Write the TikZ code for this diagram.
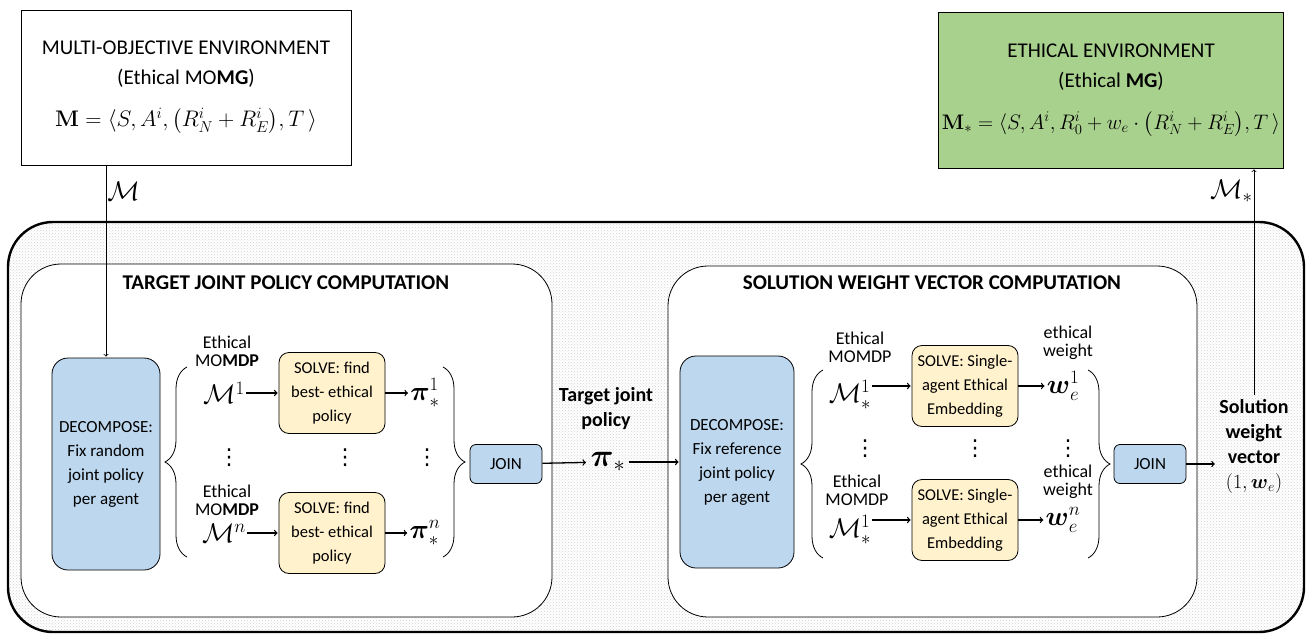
\RequirePackage{fix-cm}
\documentclass[tikz,border=0pt]{standalone}
\usepackage{amsmath}
\usepackage[no-math]{fontspec}
\setmainfont{Carlito}
\newfontfamily\dotsfont{DejaVu Sans}
\usetikzlibrary{positioning, arrows, decorations.pathreplacing, patterns}

\definecolor{decblue}{RGB}{189,215,238}
\definecolor{solveyellow}{RGB}{255,242,204}
\definecolor{envgreen}{RGB}{169,209,142}

\begin{document}
\begin{tikzpicture}
[x=1pt, y=-1pt, >=to, semithick, on grid,
 font=\fontsize{17}{24}\selectfont,
 envbox/.style={draw, thick, align=center, font=\fontsize{21}{30}\selectfont},
 decomp/.style={draw, thick, fill=decblue, rounded corners=16pt, align=center,
                minimum width=108pt, minimum height=212pt},
 solve/.style={draw, thick, fill=solveyellow, rounded corners=10pt, align=center,
               font=\fontsize{16.5}{24}\selectfont, minimum width=106pt, minimum height=81pt},
 joinbox/.style={draw, thick, fill=decblue, rounded corners=6pt,
                 font=\fontsize{17}{20}\selectfont, minimum width=72pt, minimum height=39pt},
 lab/.style={align=center, inner sep=0pt, font=\fontsize{18}{18}\selectfont},
 sym/.style={inner sep=1pt, font=\fontsize{27}{27}\selectfont},
 dotsym/.style={inner sep=0pt, font=\fontsize{22}{22}\dotsfont},
 phasetitle/.style={font=\fontsize{21}{24}\selectfont\bfseries},
 outcome/.style={align=center, font=\fontsize{20}{25}\selectfont\bfseries},
 bracedraw/.style={decorate, decoration={brace, amplitude=22pt}, thick}]

% environments
\node[envbox, minimum width=330pt, minimum height=155pt] (env) at (186,88)
  {MULTI-OBJECTIVE ENVIRONMENT\\(Ethical MO\textbf{MG})\\[12pt]
   {\fontsize{22.5}{30}\selectfont$\mathbf{M} = \langle S, A^i, \bigl(R_N^i + R_E^i\bigr), T\,\rangle$}};
\node[envbox, fill=envgreen, minimum width=342pt, minimum height=156pt] (ethenv) at (1111,90)
  {ETHICAL ENVIRONMENT\\(Ethical \textbf{MG})\\[12pt]
   {\fontsize{21}{30}\selectfont$\mathbf{M}_* = \langle S, A^i, R_0^i + w_e\cdot\bigl(R_N^i + R_E^i\bigr), T\,\rangle$}};

% frames
\draw[line width=2.4pt, rounded corners=45pt, pattern=crosshatch dots, pattern color=gray!35]
  (8,222) rectangle (1304,632);
\draw[thick, fill=white, rounded corners=40pt] (21,264) rectangle (552,617);
\draw[thick, fill=white, rounded corners=40pt] (668,266) rectangle (1197,617);
\node[phasetitle] (title1) at (286,283) {TARGET JOINT POLICY COMPUTATION};
\node[phasetitle] (title2) at (932,283) {SOLUTION WEIGHT VECTOR COMPUTATION};

% target joint policy
\node[decomp] (dec1) at (106,464) {DECOMPOSE:\\Fix random\\joint policy\\per agent};
\node[solve] (solve1) at (332,393) {SOLVE: find\\best- ethical\\policy};
\node[solve] (solven) at (332,533) {SOLVE: find\\best- ethical\\policy};
\node[sym, left=108pt of solve1] (mdp1) {$\mathcal{M}^1$};
\node[sym, left=108pt of solven] (mdpn) {$\mathcal{M}^n$};
\node[lab] (lab1) at (227,351) {Ethical\\MO\textbf{MDP}};
\node[lab] (labn) at (227,500) {Ethical\\MO\textbf{MDP}};
\node[sym, right=93pt of solve1] (pi1) {$\boldsymbol{\pi}^1_*$};
\node[sym, right=93pt of solven] (pin) {$\boldsymbol{\pi}^n_*$};
\foreach \x/\n in {229/a,345/b,427/c}
  \node[dotsym] (vdots1\n) at (\x,458) {⋮};
\draw[bracedraw] (187,557) -- (187,367);
\draw[bracedraw] (443,367) -- (443,557);
\node[joinbox] (join1) at (506,464) {JOIN};

\node[outcome] (target) at (606,409) {Target joint\\policy};
\node[font=\fontsize{32}{32}\selectfont] (pistar) at (608,462) {$\boldsymbol{\pi}_*$};

% solution weight vector
\node[decomp, minimum width=114pt] (dec2) at (737,462) {DECOMPOSE:\\Fix reference\\joint policy\\per agent};
\node[solve] (solve2) at (965,386) {SOLVE: Single-\\agent Ethical\\Embedding};
\node[solve] (solve2n) at (965,520) {SOLVE: Single-\\agent Ethical\\Embedding};
\node[sym] (mdp2) at (850,395) {$\mathcal{M}^1_*$};
\node[sym] (mdp2n) at (850,530) {$\mathcal{M}^1_*$};
\node[lab] (lab2) at (860,347) {Ethical\\MOMDP};
\node[lab] (lab2n) at (857,490) {Ethical\\MOMDP};
\node[sym, right=98pt of solve2] (w1) {$\boldsymbol{w}^1_e$};
\node[sym, right=98pt of solve2n] (wn) {$\boldsymbol{w}^n_e$};
\node[lab] (wlab1) at (1068,343) {ethical\\weight};
\node[lab] (wlabn) at (1068,482) {ethical\\weight};
\foreach \x/\n in {865/a,975/b,1068/c}
  \node[dotsym] (vdots2\n) at (\x,449) {⋮};
\draw[bracedraw] (823,558) -- (823,370);
\draw[bracedraw] (1088,370) -- (1088,558);
\node[joinbox] (join2) at (1150,464) {JOIN};

\node[outcome] (sol) at (1254,446) {Solution\\weight\\vector\\$(1,\boldsymbol{w}_e)$};

\path[->, line width=1.3pt, shorten >=1pt]
  (mdp1) edge (solve1)
  (solve1) edge (pi1)
  (mdpn) edge (solven)
  (solven) edge (pin)
  (join1) edge (pistar)
  (pistar) edge (dec2)
  (mdp2.east |- solve2) edge (solve2)
  (solve2) edge (w1)
  (mdp2n.east |- solve2n) edge (solve2n)
  (solve2n) edge (wn)
  (join2) edge (join2 -| sol.west);
\path[->, thick, shorten >=1pt]
  (env.south -| dec1.north) edge node[sym, right, pos=.13] {$\mathcal{M}$} (dec1.north)
  (sol.north) edge node[sym, left, pos=.9] {$\mathcal{M}_*$} (sol.north |- ethenv.south);

\useasboundingbox (0,0) rectangle (1310,634);
\end{tikzpicture}
\end{document}
